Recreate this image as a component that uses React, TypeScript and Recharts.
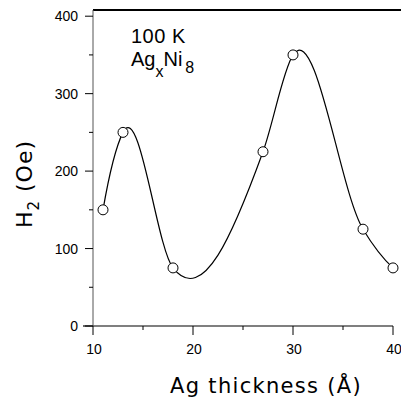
import { LineChart, Line, XAxis, YAxis, ReferenceLine } from "recharts";

// Ag thickness (Å) vs H2 (Oe) at 100 K
const thickness = [11, 13, 18, 27, 30, 37, 40];
const h2 = [150, 250, 75, 225, 350, 125, 75];
const xTicks = [10, 15, 20, 25, 30, 35, 40];
const yTicks = [0, 50, 100, 150, 200, 250, 300, 350, 400];

const data = thickness.map((t, i) => ({ t, h: h2[i] }));

const numFont = "'Liberation Sans', Arial, sans-serif";
const titleFont = "'DejaVu Sans', sans-serif";

// cubic Hermite through the points, tangents from the 3-point parabola
// (like monotoneX but without the clamp, so it can over/undershoot)
function smoothX(context: any) {
  let xs: number[] = [];
  let ys: number[] = [];
  let area = NaN;
  return {
    areaStart() { area = 0; },
    areaEnd() { area = NaN; },
    lineStart() { xs = []; ys = []; },
    point(x: number, y: number) { xs.push(+x); ys.push(+y); },
    lineEnd() {
      const n = xs.length;
      if (!n) return;
      if (area === 0) context.lineTo(xs[0], ys[0]);
      else context.moveTo(xs[0], ys[0]);
      if (n === 1) return;
      const h: number[] = [];
      const d: number[] = [];
      for (let i = 0; i < n - 1; i++) {
        h.push(xs[i + 1] - xs[i]);
        d.push((ys[i + 1] - ys[i]) / h[i]);
      }
      const m: number[] = new Array(n);
      if (n === 2) {
        m[0] = m[1] = d[0];
      } else {
        for (let i = 1; i < n - 1; i++) {
          m[i] = (h[i] * d[i - 1] + h[i - 1] * d[i]) / (h[i - 1] + h[i]);
        }
        m[0] = ((2 * h[0] + h[1]) * d[0] - h[0] * d[1]) / (h[0] + h[1]);
        const k = n - 2;
        m[n - 1] = ((2 * h[k] + h[k - 1]) * d[k] - h[k] * d[k - 1]) / (h[k - 1] + h[k]);
      }
      for (let i = 0; i < n - 1; i++) {
        const dx = h[i] / 3;
        context.bezierCurveTo(
          xs[i] + dx, ys[i] + m[i] * dx,
          xs[i + 1] - dx, ys[i + 1] - m[i + 1] * dx,
          xs[i + 1], ys[i + 1]
        );
      }
    },
  };
}

function XTick(props: any) {
  const { x, y, payload } = props;
  const major = payload.value % 10 === 0;
  return (
    <g>
      <line x1={x} x2={x} y1={y} y2={y + (major ? 9 : 4)} stroke="#000" strokeWidth={1} />
      {major && (
        <text x={x + 1} y={y + 28} textAnchor="middle" fontFamily={numFont} fontSize={14} fill="#000">
          {payload.value}
        </text>
      )}
    </g>
  );
}

function YTick(props: any) {
  const { x, y, payload } = props;
  const major = payload.value % 100 === 0;
  return (
    <g>
      <line x1={x - (major ? 8 : 4)} x2={x} y1={y} y2={y} stroke="#000" strokeWidth={1} />
      {major && (
        <text x={x - 15} y={y + 5} textAnchor="end" fontFamily={numFont} fontSize={14} fill="#000">
          {payload.value}
        </text>
      )}
    </g>
  );
}

function Dot(props: any) {
  const { cx, cy } = props;
  return <circle cx={cx} cy={cy} r={5} fill="#fff" stroke="#000" strokeWidth={1} />;
}

export default function App() {
  return (
    <div style={{ position: "absolute", left: 0, top: 0, width: 401, height: 399, background: "#fff" }}>
      <LineChart width={401} height={399} data={data} margin={{ top: 10, right: 8, left: 8, bottom: 43 }}>
        <XAxis
          dataKey="t"
          type="number"
          domain={[10, 40]}
          ticks={xTicks}
          tick={<XTick />}
          tickLine={false}
          tickSize={0}
          tickMargin={0}
          height={30}
          axisLine={{ stroke: "#000", strokeWidth: 1.2 }}
        />
        <YAxis
          type="number"
          domain={[0, 408]}
          ticks={yTicks}
          tick={<YTick />}
          tickLine={false}
          tickSize={0}
          tickMargin={0}
          width={85}
          axisLine={{ stroke: "#555", strokeWidth: 1 }}
        />
        <ReferenceLine
          segment={[{ x: 10, y: 408 }, { x: 41, y: 408 }]}
          ifOverflow="visible"
          stroke="#000"
          strokeWidth={2}
        />
        <ReferenceLine
          segment={[{ x: 9, y: 0 }, { x: 10, y: 0 }]}
          ifOverflow="visible"
          stroke="#000"
          strokeWidth={1.2}
        />
        <Line
          type={smoothX as any}
          dataKey="h"
          stroke="#000"
          strokeWidth={1.2}
          dot={<Dot />}
          isAnimationActive={false}
        />
      </LineChart>
      <svg width={401} height={399} style={{ position: "absolute", left: 0, top: 0, pointerEvents: "none" }}>
        <text x={266} y={393} textAnchor="middle" fontFamily={titleFont} fontSize={21} letterSpacing={1.3} fill="#000">
          Ag thickness (Å)
        </text>
        <text
          transform="translate(32,184) rotate(-90)"
          textAnchor="middle"
          fontFamily={titleFont}
          fontSize={22}
          letterSpacing={1}
          fill="#000"
        >
          H<tspan fontSize={15} dy={7}>2</tspan>
          <tspan dy={-7}> (Oe)</tspan>
        </text>
        <text x={131} y={43} fontFamily={numFont} fontSize={20} letterSpacing={0.5} fill="#000">
          100 K
        </text>
        <text x={131} y={66} fontFamily={numFont} fontSize={20} fill="#000">
          Ag<tspan fontSize={16} dy={11}>x</tspan>
          <tspan dy={-11}>Ni</tspan>
          <tspan fontSize={16} dy={7} dx={3}>8</tspan>
        </text>
      </svg>
    </div>
  );
}
